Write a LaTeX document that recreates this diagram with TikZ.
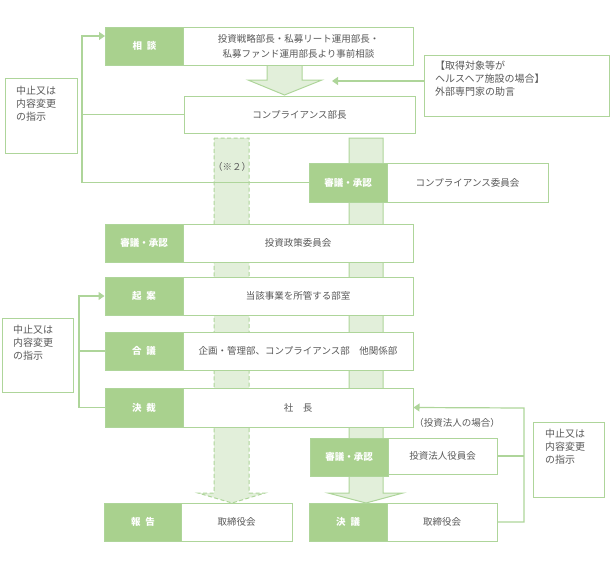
\documentclass[tikz,border=0pt]{standalone}
\usepackage{fontspec}
\newfontfamily\jp{Noto Sans CJK JP}
\usetikzlibrary{arrows.meta}
\definecolor{gfill}{HTML}{A9D18E}
\definecolor{gline}{HTML}{AED59A}
\definecolor{cfill}{HTML}{E2EFDA}
\definecolor{txt}{HTML}{595959}
\tikzset{
  gbox/.style={draw=gline, fill=gfill, line width=1pt, inner sep=0pt, text=white, font=\jp\bfseries\fontsize{9.5}{11}\selectfont},
  wbox/.style={draw=gline, fill=white, line width=1pt, inner sep=0pt, text=txt, align=center, font=\jp\fontsize{9.5}{15}\selectfont},
  sbox/.style={draw=gline, fill=white, line width=1pt, inner sep=0pt},
  stext/.style={anchor=north west, inner sep=0pt, text=txt, align=left, font=\jp\fontsize{10}{12.8}\selectfont},
  plain/.style={inner sep=0pt, text=txt, font=\jp\fontsize{9.5}{11}\selectfont},
  fb/.style={draw=gline, line width=1.2pt},
  tip/.style={-{Triangle[length=6pt,width=8pt]}},
  colm/.style={draw=gline, fill=cfill, line width=1pt, line join=miter}
}
\newcommand{\gsp}{\hspace{5pt}}
\begin{document}
\begin{tikzpicture}[x=1pt,y=-1pt]
\useasboundingbox (0,0) rectangle (610,570);
% columns (behind boxes)
\draw[colm, dashed, dash pattern=on 4pt off 2.5pt] (214,138) -- (249,138) -- (249,493) -- (265,493) -- (232,503) -- (198,493) -- (214,493) -- cycle;
\draw[colm] (349,138) -- (383,138) -- (383,493) -- (403,493) -- (366,503) -- (328,493) -- (349,493) -- cycle;
\draw[colm] (267,65) -- (302,65) -- (302,80) -- (322,80) -- (284.5,95) -- (248,80) -- (267,80) -- cycle;
\node[plain] (note2) at (232,167) {（※２）};

% left boxes
\node[gbox, minimum width=78pt, minimum height=38pt] (sodanG) at (144.5,46) {相\gsp 談};
\node[wbox, minimum width=230pt, minimum height=38pt] (sodanW) at (298.5,46) {投資戦略部長・私募リート運用部長・\\私募ファンド運用部長より事前相談};
\node[wbox, minimum width=231pt, minimum height=37pt] (compl) at (299.5,114.5) {コンプライアンス部長};
\node[gbox, minimum width=78pt, minimum height=39pt] (ccG) at (348,182.5) {審議・承認};
\node[wbox, minimum width=161pt, minimum height=39pt] (ccW) at (467.5,182.5) {コンプライアンス委員会};
\node[gbox, minimum width=78pt, minimum height=38pt] (ipG) at (144,243) {審議・承認};
\node[wbox, minimum width=230pt, minimum height=38pt] (ipW) at (298,243) {投資政策委員会};
\node[gbox, minimum width=78pt, minimum height=38pt] (kianG) at (144,296) {起\gsp 案};
\node[wbox, minimum width=230pt, minimum height=38pt] (kianW) at (298,296) {当該事業を所管する部室};
\node[gbox, minimum width=78pt, minimum height=38pt] (gogiG) at (144,351) {合\gsp 議};
\node[wbox, minimum width=230pt, minimum height=38pt] (gogiW) at (298,351) {企画・管理部、コンプライアンス部\quad 他関係部};
\node[gbox, minimum width=78pt, minimum height=39pt] (kessaiG) at (144,407.5) {決\gsp 裁};
\node[wbox, minimum width=230pt, minimum height=39pt] (kessaiW) at (298,407.5) {社\quad 長};
\node[gbox, minimum width=78pt, minimum height=38pt] (hokokuG) at (143,522) {報\gsp 告};
\node[wbox, minimum width=111pt, minimum height=38pt] (hokokuW) at (236.5,522) {取締役会};

% right boxes
\node[gbox, minimum width=78pt, minimum height=38pt] (ihG) at (349,457) {審議・承認};
\node[wbox, minimum width=109pt, minimum height=36pt] (ihW) at (442.5,456) {投資法人役員会};
\node[gbox, minimum width=78pt, minimum height=38pt] (ketsugiG) at (348,522) {決\gsp 議};
\node[wbox, minimum width=110pt, minimum height=38pt] (ketsugiW) at (442,522) {取締役会};
\node[plain] (note3) at (457,423) {（投資法人の場合）};

% side boxes
\node[sbox, minimum width=72pt, minimum height=75pt] (stop1) at (41,115.5) {};
\node[stext] (stop1t) at (16,86) {中止又は\\内容変更\\の指示};
\node[sbox, minimum width=71pt, minimum height=74pt] (stop2) at (37.5,355) {};
\node[stext] (stop2t) at (13,325) {中止又は\\内容変更\\の指示};
\node[sbox, minimum width=71pt, minimum height=75pt] (stop3) at (568.5,459.5) {};
\node[stext] (stop3t) at (545,429) {中止又は\\内容変更\\の指示};
\node[sbox, minimum width=185pt, minimum height=61pt] (acq) at (516.5,85.5) {};
\node[stext] (acqt) at (435,61) {【取得対象等が\\ヘルスヘア施設の場合】\\外部専門家の助言};

% connectors
\coordinate (fbA) at (82,36);
\coordinate (fbB) at (79,296);
\coordinate (fbC) at (524,408);
\coordinate (acqS) at (424,81);
\coordinate (acqE) at (332,81);
\draw[fb, tip] (ccG.west) -| (fbA) -- (fbA -| sodanG.west);
\draw[fb] (compl.west) -- (compl.west -| fbA);
\draw[fb, tip] (kessaiG.west) -| (fbB) -- (kianG.west);
\draw[fb] (gogiG.west) -- (gogiG.west -| fbB);
\draw[fb, tip] (ketsugiW.east) -| (fbC) -- (kessaiW.east);
\draw[fb] (ihW.east) -- (ihW.east -| fbC);
\draw[fb, tip] (acqS) -- (acqE);
\end{tikzpicture}
\end{document}
